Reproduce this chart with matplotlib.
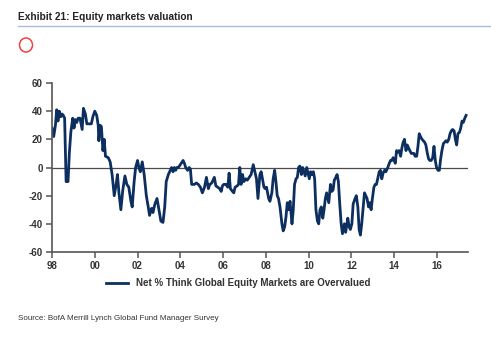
import matplotlib
matplotlib.use("Agg")
import matplotlib.pyplot as plt
from matplotlib.patches import Ellipse
from matplotlib.lines import Line2D

# Survey date (decimal year) and net % of fund managers saying equities are overvalued
years = [
    1998.00, 1998.08, 1998.16, 1998.22, 1998.28, 1998.34, 1998.41, 1998.47, 1998.53, 1998.59,
    1998.66, 1998.75, 1998.81, 1998.88, 1998.97, 1999.03, 1999.09, 1999.16, 1999.22, 1999.31,
    1999.41, 1999.47, 1999.56, 1999.63, 1999.75, 1999.84, 1999.91, 2000.00, 2000.09, 2000.16,
    2000.19, 2000.25, 2000.31, 2000.38, 2000.44, 2000.50, 2000.63, 2000.72, 2000.81, 2000.91,
    2001.00, 2001.06, 2001.13, 2001.22, 2001.31, 2001.41, 2001.50, 2001.59, 2001.69, 2001.75,
    2001.84, 2001.91, 2002.00, 2002.06, 2002.13, 2002.22, 2002.31, 2002.41, 2002.50, 2002.56,
    2002.66, 2002.72, 2002.81, 2002.91, 2003.00, 2003.09, 2003.19, 2003.27, 2003.34, 2003.44,
    2003.50, 2003.59, 2003.66, 2003.72, 2003.78, 2003.84, 2003.91, 2004.00, 2004.13, 2004.19,
    2004.25, 2004.34, 2004.41, 2004.47, 2004.53, 2004.66, 2004.75, 2004.84, 2004.94, 2005.03,
    2005.13, 2005.22, 2005.31, 2005.38, 2005.47, 2005.53, 2005.59, 2005.66, 2005.75, 2005.84,
    2005.91, 2005.97, 2006.03, 2006.13, 2006.22, 2006.28, 2006.34, 2006.44, 2006.50, 2006.56,
    2006.66, 2006.72, 2006.78, 2006.84, 2006.91, 2006.97, 2007.06, 2007.13, 2007.22, 2007.31,
    2007.41, 2007.47, 2007.56, 2007.63, 2007.72, 2007.78, 2007.84, 2007.91, 2007.97, 2008.03,
    2008.13, 2008.19, 2008.28, 2008.34, 2008.41, 2008.47, 2008.53, 2008.59, 2008.66, 2008.75,
    2008.81, 2008.88, 2008.94, 2009.00, 2009.06, 2009.13, 2009.22, 2009.28, 2009.34, 2009.41,
    2009.47, 2009.53, 2009.59, 2009.66, 2009.72, 2009.78, 2009.84, 2009.91, 2009.97, 2010.03,
    2010.09, 2010.16, 2010.22, 2010.28, 2010.34, 2010.41, 2010.47, 2010.53, 2010.59, 2010.66,
    2010.72, 2010.78, 2010.84, 2010.94, 2011.02, 2011.08, 2011.14, 2011.20, 2011.27, 2011.33,
    2011.39, 2011.45, 2011.52, 2011.58, 2011.67, 2011.73, 2011.83, 2011.89, 2011.95, 2012.02,
    2012.08, 2012.17, 2012.23, 2012.30, 2012.36, 2012.42, 2012.48, 2012.55, 2012.61, 2012.67,
    2012.73, 2012.80, 2012.86, 2012.92, 2012.98, 2013.05, 2013.11, 2013.17, 2013.23, 2013.30,
    2013.36, 2013.42, 2013.48, 2013.55, 2013.61, 2013.70, 2013.77, 2013.83, 2013.89, 2013.95,
    2014.05, 2014.11, 2014.17, 2014.23, 2014.30, 2014.36, 2014.42, 2014.48, 2014.55, 2014.61,
    2014.67, 2014.73, 2014.80, 2014.86, 2014.92, 2014.98, 2015.05, 2015.11, 2015.17, 2015.23,
    2015.30, 2015.36, 2015.42, 2015.48, 2015.55, 2015.61, 2015.67, 2015.73, 2015.80, 2015.86,
    2015.92, 2015.98, 2016.05, 2016.11, 2016.17, 2016.23, 2016.30, 2016.36, 2016.42, 2016.48,
    2016.55, 2016.61, 2016.67, 2016.73, 2016.80, 2016.86, 2016.92, 2016.98, 2017.05, 2017.11,
    2017.17, 2017.23, 2017.30, 2017.36,
]
net_overvalued = [
    28, 22, 30, 41, 33, 40, 36, 38, 37, 35,
    -10, -10, 10, 25, 35, 28, 34, 32, 35, 35,
    27, 42, 38, 31, 31, 31, 36, 40, 37, 30,
    19, 30, 29, 12, 20, 8, 7, 4, -5, -20,
    -12, -5, -18, -30, -16, -6, -12, -14, -24, -28,
    -10, 0, 5, 0, -3, 4, -5, -20, -28, -34,
    -29, -32, -26, -22, -30, -38, -39, -28, -10, -5,
    -3, 0, -3, 0, -2, 0, 0, 2, 5, 3,
    0, -2, 0, -1, -12, -12, -11, -12, -14, -18,
    -14, -7, -15, -12, -11, -9, -7, -13, -14, -15,
    -17, -13, -12, -12, -14, -4, -15, -17, -18, -14,
    -13, -12, 0, -12, -5, -10, -8, -9, -7, -5,
    2, -2, -8, -22, -5, -3, -8, -14, -15, -14,
    -22, -24, -18, -8, -2, -10, -20, -22, -28, -40,
    -45, -42, -35, -25, -30, -24, -40, -30, -12, -8,
    -7, 0, 1, -5, 0, -3, -6, 0, -4, -8,
    -3, -5, -3, -8, -30, -38, -40, -30, -28, -36,
    -30, -22, -18, -25, -12, -17, -16, -9, -7, -5,
    -10, -25, -40, -47, -40, -46, -36, -42, -44, -40,
    -26, -22, -20, -28, -44, -48, -40, -28, -18, -20,
    -22, -28, -25, -30, -22, -14, -12, -12, -8, -3,
    -2, -8, -4, -2, -3, 0, 3, 5, 5, 7,
    3, 12, 11, 12, 8, 14, 18, 20, 12, 16,
    14, 12, 10, 10, 10, 8, 8, 15, 24, 22,
    20, 19, 18, 16, 10, 6, 5, 5, 7, 15,
    5, 0, -2, -2, 6, 12, 17, 18, 19, 18,
    20, 24, 26, 27, 26, 20, 16, 24, 25, 28,
    33, 32, 35, 37,
]

year_ticks = [1998, 2000, 2002, 2004, 2006, 2008, 2010, 2012, 2014, 2016]
year_labels = ["98", "00", "02", "04", "06", "08", "10", "12", "14", "16"]
value_ticks = [-60, -40, -20, 0, 20, 40, 60]

title_text = "Exhibit 21: Equity markets valuation"
series_label = "Net % Think Global Equity Markets are Overvalued"
source_text = "Source: BofA Merrill Lynch Global Fund Manager Survey"

navy = "#0c2f5f"
axis_grey = "#555555"
text_dark = "#333333"

plt.rcParams["font.family"] = ["Liberation Sans", "DejaVu Sans"]
plt.rcParams["axes.unicode_minus"] = False

W, H = 491, 339
fig = plt.figure(figsize=(W / 100, H / 100), dpi=100)
fig.patch.set_facecolor("white")

# header
fig.text(18 / W, 1 - 17 / H, title_text, fontsize=7.3, fontweight="bold",
         color="#222222", ha="left", va="center")
fig.add_artist(Line2D([18 / W, 1.0], [1 - 26 / H, 1 - 26 / H],
                      color="#a9bcd3", lw=1.0, transform=fig.transFigure))
fig.add_artist(Ellipse((26 / W, 1 - 45 / H), 13 / W, 14 / H,
                       transform=fig.transFigure, fill=False,
                       edgecolor="#e8453c", lw=1.1))

# plot area
ax = fig.add_axes([52 / W, 1 - 252 / H, (468 - 52) / W, (252 - 83) / H])
ax.plot(years, net_overvalued, color=navy, lw=2.0, solid_joinstyle="round")
ax.axhline(0, color="#4a4a4a", lw=0.9, zorder=1)

ax.set_xlim(1998, 2017.45)
ax.set_ylim(-60, 60)
ax.set_xticks(year_ticks)
ax.set_xticklabels(year_labels)
ax.set_yticks(value_ticks)

for side in ("top", "right"):
    ax.spines[side].set_visible(False)
for side in ("left", "bottom"):
    ax.spines[side].set_color(axis_grey)
    ax.spines[side].set_linewidth(1.2)

ax.tick_params(axis="both", direction="out", length=4, width=1.1, color=axis_grey,
               labelsize=7.0, labelcolor=text_dark, pad=2.5)
for lab in ax.get_xticklabels() + ax.get_yticklabels():
    lab.set_fontweight("bold")

# legend
leg = ax.legend([Line2D([0], [0], color=navy, lw=2.0)], [series_label],
                loc="center", bbox_to_anchor=(238 / W, 1 - 283 / H),
                bbox_transform=fig.transFigure, frameon=False,
                handlelength=2.3, handletextpad=0.8,
                prop={"size": 7.0, "weight": "bold"})
for t in leg.get_texts():
    t.set_color(text_dark)

# footnote
fig.text(18 / W, 1 - 319 / H, source_text, fontsize=5.8, color=text_dark,
         ha="left", va="center")

fig.savefig("out.png", dpi=100, facecolor="white")
